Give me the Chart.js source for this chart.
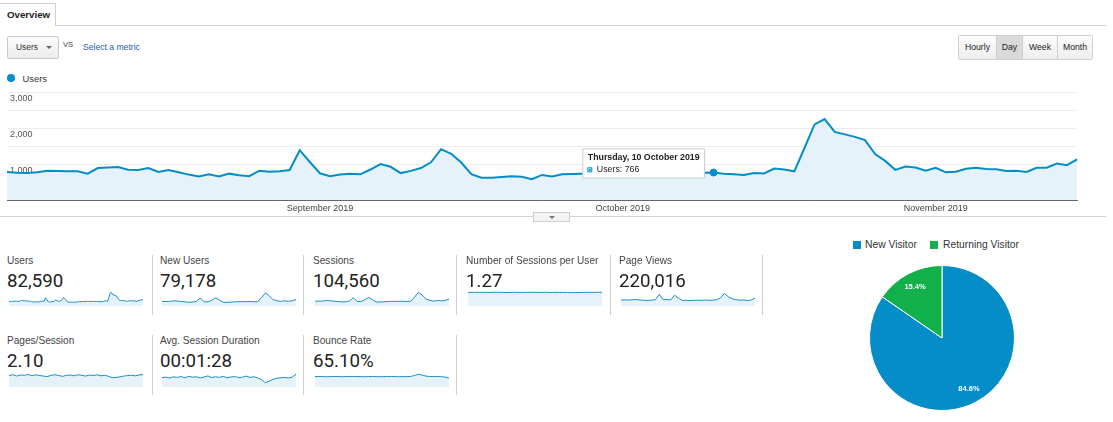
<!DOCTYPE html>
<html>
<head>
<meta charset="utf-8">
<title>Overview</title>
<script src="https://cdn.jsdelivr.net/npm/chart.js@4.4.1/dist/chart.umd.min.js"></script>
<style>
  html, body { margin:0; padding:0; background:#fff; }
  body { position:relative; width:1113px; height:422px; overflow:hidden; font-family:"Liberation Sans", Arial, sans-serif; color:#333; }
  .a { position:absolute; white-space:nowrap; }
  #tab { left:-1px; top:3px; width:57px; height:23px; box-sizing:border-box; border:1px solid #cfcfcf; border-bottom:none; background:#fff; font-weight:bold; font-size:9.7px; line-height:22px; padding-left:7px; color:#222; }
  #tabline { left:55px; top:25px; width:1051px; height:1px; background:#d3d3d3; }
  #dd { left:7px; top:36px; width:52px; height:23px; box-sizing:border-box; border:1px solid #c9c9c9; border-radius:2px; background:linear-gradient(#fbfbfb,#ececec); font-size:8.4px; line-height:21px; padding-left:8px; color:#333; }
  #dd .tri { position:absolute; left:38px; top:9px; width:0; height:0; border-left:3px solid transparent; border-right:3px solid transparent; border-top:3px solid #666; }
  #vs { left:63px; top:40px; font-size:7.6px; color:#444; }
  #sel { left:83px; top:42px; font-size:8.6px; color:#2b5ea7; }
  #btns { left:958px; top:35px; width:135px; height:25px; display:flex; border:1px solid #cfcfcf; border-radius:2px; box-sizing:border-box; overflow:hidden; }
  #btns div { box-sizing:border-box; font-size:8.7px; line-height:23px; text-align:center; color:#222; background:linear-gradient(#fcfcfc,#eeeeee); border-left:1px solid #cfcfcf; }
  #btns div:first-child { border-left:none; }
  #btns div.on { background:#dadada; }
  #lgdot { left:7px; top:74px; width:8px; height:8px; border-radius:50%; background:#058dc7; }
  #lgtxt { left:22.5px; top:73.5px; font-size:9.4px; line-height:10px; color:#333; }
  #mainWrap { left:0; top:84px; width:1113px; height:132px; }
  #handleLine { left:0; top:216px; width:1106px; height:1px; background:#d3d3d3; }
  #handle { left:533px; top:212px; width:37px; height:10px; box-sizing:border-box; border:1px solid #cfcfcf; background:#f3f3f3; }
  #handle .tri { position:absolute; left:15px; top:3px; width:0; height:0; border-left:3px solid transparent; border-right:3px solid transparent; border-top:3px solid #777; }
  .tlabel { font-size:10.1px; line-height:10px; color:#444; }
  .tvalue { font-family:Roboto, "Liberation Sans", Arial, sans-serif; font-size:18.7px; line-height:19px; color:#222; }
  .sep { width:1px; background:#d0d0d0; }
  .pls { width:8px; height:8px; }
  .plt { font-size:10.3px; line-height:10px; color:#333; }
</style>
</head>
<body>
<div id="tab" class="a">Overview</div>
<div id="tabline" class="a"></div>
<div id="dd" class="a">Users<span class="tri"></span></div>
<div id="vs" class="a">VS</div>
<div id="sel" class="a">Select a metric</div>
<div id="btns" class="a">
  <div style="width:37px">Hourly</div>
  <div class="on" style="width:26px">Day</div>
  <div style="width:35px">Week</div>
  <div style="width:35px">Month</div>
</div>
<div id="lgdot" class="a"></div>
<div id="lgtxt" class="a">Users</div>
<div id="mainWrap" class="a"><canvas id="main" width="1113" height="132"></canvas></div>
<div id="handleLine" class="a"></div>
<div id="handle" class="a"><span class="tri"></span></div>
<div id="tiles"></div>
<div class="a pls" style="left:853px;top:241px;background:#058dc7"></div>
<div class="a plt" style="left:865px;top:240px" id="pl0"></div>
<div class="a pls" style="left:930px;top:241px;background:#12b04b"></div>
<div class="a plt" style="left:943px;top:240px" id="pl1"></div>
<div class="a" style="left:869px;top:265px;width:146px;height:146px"><canvas id="pie" width="146" height="146"></canvas></div>

<script>
// ---------------- DATA ----------------
const startDate = '2019-08-01';
const dayCount = 107; // 1 Aug 2019 .. 15 Nov 2019

// Daily users
const users = [
  780, 760, 754, 772, 817, 808, 799, 799, 735, 890,
  908, 917, 844, 835, 890, 781, 835, 772, 708, 654,
  717, 654, 735, 690, 663, 817, 790, 799, 835, 1389,
  1060, 745, 663, 708, 735, 717, 850, 1000, 926, 750,
  812, 890, 1050, 1416, 1289, 1044, 720, 622, 622, 640,
  663, 650, 580, 699, 654, 717, 726, 735, 740, 760,
  730, 770, 780, 750, 790, 760, 740, 770, 780, 760,
  766, 735, 717, 695, 754, 740, 876, 853, 799, 1450,
  2107, 2258, 1900, 1830, 1760, 1671, 1280, 1090, 840, 935,
  908, 817, 899, 772, 790, 872, 899, 863, 854, 808,
  817, 781, 899, 899, 1017, 972, 1135
];

const tickDates = ['2019-09-01', '2019-10-01', '2019-11-01'];
const tickLabels = ['September 2019', 'October 2019', 'November 2019'];
const yTickValues = [1000, 2000, 3000];
const yTickLabels = ['1,000', '2,000', '3,000'];

const tooltipDate = '2019-10-10';
const weekdayNames = ['Sunday','Monday','Tuesday','Wednesday','Thursday','Friday','Saturday'];
const monthNames = ['January','February','March','April','May','June','July','August','September','October','November','December'];

// Metric tiles
const tileLabels = ['Users','New Users','Sessions','Number of Sessions per User','Page Views','Pages/Session','Avg. Session Duration','Bounce Rate'];
const tileValues = ['82,590','79,178','104,560','1.27','220,016','2.10','00:01:28','65.10%'];

// Sparkline series (approximate shapes)
const newUsersSpark = [745,760,770,860,815,760,690,630,650,775,1340,700,690,960,1370,1000,600,620,640,700,715,730,720,740,700,730,1400,2180,1720,1060,880,760,860,790,870,1090];
const sessionsSpark = [960,970,990,1090,1040,970,890,820,840,1000,1680,900,890,1230,1730,1280,790,810,830,900,920,940,930,950,910,940,1780,2760,2200,1370,1130,980,1100,1020,1120,1390];
const sessionsPerUserSpark = [1.27,1.28,1.27,1.27,1.28,1.27,1.27,1.28,1.28,1.27,1.25,1.27,1.28,1.27,1.26,1.27,1.28,1.28,1.27,1.27,1.28,1.27,1.27,1.28,1.27,1.27,1.26,1.24,1.25,1.26,1.27,1.28,1.27,1.27,1.28,1.28];
const pageViewsSpark = [1950,2050,1980,2100,2150,2000,1900,1850,1950,2100,3900,2100,2150,2050,3600,2600,1850,1900,1800,1900,1950,1850,2000,1900,1950,2100,2700,4200,3100,2400,2100,1950,2000,1800,2000,2600];
const pagesPerSessionSpark = [2.15,2.30,2.05,2.25,2.20,2.35,2.10,2.28,2.15,2.05,1.95,2.20,2.30,2.15,2.00,2.18,2.25,2.10,2.30,2.20,2.05,2.25,2.15,2.28,2.10,2.20,2.00,1.75,1.80,1.90,2.05,2.15,2.20,2.10,2.25,2.35];
const avgSessionDurationSpark = [88,92,85,95,90,98,86,100,92,96,84,94,104,88,96,90,100,86,94,98,88,92,102,90,96,86,70,40,55,72,82,86,90,84,92,120];
const bounceRateSpark = [65,66,65,64,65,66,65,64,65,66,66,65,65,64,65,66,65,64,65,65,66,65,64,65,65,66,72,80,74,68,66,65,66,64,62,56];

// Pie
const visitorTypes = ['New Visitor', 'Returning Visitor'];
const visitorShares = [84.6, 15.4];

// ---------------- LAYOUT / STYLE ----------------
const FONT = '"Liberation Sans", Arial, sans-serif';
const BLUE = '#058dc7';
const FILL = '#e5f2f9';
Chart.defaults.font.family = FONT;

const sparkSeries = [users, newUsersSpark, sessionsSpark, sessionsPerUserSpark, pageViewsSpark, pagesPerSessionSpark, avgSessionDurationSpark, bounceRateSpark];
const sparkMax = [2500, 2500, 3000, 1.4, 5000, 3, 150, 100];
const tileX = [7, 160, 313, 466, 619, 7, 160, 313];
const tileRow = [0, 0, 0, 0, 0, 1, 1, 1];
const rowLabelTop = [255.5, 335.5];
const rowValueTop = [272, 351.5];
const rowSparkTop = [291, 371];
const rowSparkH = [15, 16];
const sepX = [[152, 303, 456, 610, 762], [152, 303, 456]];
const sepTop = [255, 335];

// dates
const dates = [];
{
  const [y, m, d] = startDate.split('-').map(Number);
  for (let i = 0; i < dayCount; i++) {
    const dt = new Date(Date.UTC(y, m - 1, d + i));
    dates.push(dt.toISOString().slice(0, 10));
  }
}
function longDate(iso) {
  const [y, m, d] = iso.split('-').map(Number);
  const dt = new Date(Date.UTC(y, m - 1, d));
  return weekdayNames[dt.getUTCDay()] + ', ' + d + ' ' + monthNames[m - 1] + ' ' + y;
}

// ---------------- MAIN CHART ----------------
Chart.Tooltip.positioners.gaLeft = function (items) {
  if (!items.length) return false;
  const el = items[0].element;
  return { x: el.x - 9, y: el.y - 9, xAlign: 'right', yAlign: 'center' };
};

const mainChart = new Chart(document.getElementById('main'), {
  type: 'line',
  data: {
    labels: dates,
    datasets: [{
      label: 'Users',
      data: users,
      borderColor: BLUE,
      borderWidth: 2,
      backgroundColor: FILL,
      fill: 'origin',
      pointRadius: 0,
      pointHoverRadius: 3.5,
      pointHoverBackgroundColor: BLUE,
      pointHoverBorderColor: BLUE,
      pointHoverBorderWidth: 1,
      tension: 0
    }]
  },
  options: {
    responsive: false,
    animation: false,
    events: [],
    layout: { padding: { left: 7, right: 36, top: 6, bottom: 0 } },
    interaction: { mode: 'index', intersect: false },
    plugins: {
      legend: { display: false },
      tooltip: {
        position: 'gaLeft',
        xAlign: 'right',
        yAlign: 'center',
        caretSize: 0,
        caretPadding: 0,
        cornerRadius: 0,
        backgroundColor: '#ffffff',
        borderColor: '#cccccc',
        borderWidth: 1,
        titleColor: '#222',
        bodyColor: '#222',
        titleFont: { size: 8.8, weight: 'bold', family: FONT },
        bodyFont: { size: 8.8, family: FONT },
        padding: { top: 3, bottom: 3, left: 5, right: 5 },
        titleMarginBottom: 2,
        displayColors: true,
        boxWidth: 4,
        boxHeight: 4,
        boxPadding: 3,
        callbacks: {
          title: items => longDate(dates[items[0].dataIndex]),
          label: ctx => 'Users: ' + ctx.formattedValue,
          labelColor: () => ({ borderColor: BLUE, backgroundColor: BLUE, borderWidth: 0 })
        }
      }
    },
    scales: {
      x: {
        z: 1,
        grid: { display: false, drawTicks: false },
        border: { display: true, color: '#666', width: 1 },
        ticks: {
          autoSkip: false, maxRotation: 0, minRotation: 0, padding: 3,
          color: '#444', font: { size: 9, family: FONT },
          callback: (v, i) => { const k = tickDates.indexOf(dates[i]); return k >= 0 ? tickLabels[k] : ''; }
        },
        afterFit: s => { s.height = 16; }
      },
      y: {
        min: 0, max: 3000,
        grid: { color: c => c.tick.value === 0 ? 'rgba(0,0,0,0)' : '#ececec', drawTicks: false },
        border: { display: false },
        ticks: { display: false, stepSize: 500 },
        afterFit: s => { s.width = 0; }
      },
      yl: {
        position: 'left',
        min: 0, max: 3000,
        z: 1,
        grid: { display: false, drawTicks: false },
        border: { display: false },
        ticks: {
          stepSize: 1000, mirror: true, padding: 3, labelOffset: 6,
          color: '#555', font: { size: 9, family: FONT },
          showLabelBackdrop: true,
          backdropColor: c => yTickValues.includes(c.tick.value) ? '#ffffff' : 'rgba(0,0,0,0)',
          backdropPadding: { x: 1, y: 0 },
          callback: v => { const k = yTickValues.indexOf(v); return k >= 0 ? yTickLabels[k] : ''; }
        },
        afterFit: s => { s.width = 0; }
      }
    }
  }
});
{
  const idx = dates.indexOf(tooltipDate);
  mainChart.setActiveElements([{ datasetIndex: 0, index: idx }]);
  mainChart.tooltip.setActiveElements([{ datasetIndex: 0, index: idx }], { x: 0, y: 0 });
  mainChart.update();
}

// ---------------- TILES ----------------
const tilesEl = document.getElementById('tiles');
tileLabels.forEach((lab, i) => {
  const r = tileRow[i];
  const l = document.createElement('div');
  l.className = 'a tlabel'; l.style.left = tileX[i] + 'px'; l.style.top = rowLabelTop[r] + 'px'; l.textContent = lab;
  tilesEl.appendChild(l);
  const v = document.createElement('div');
  v.className = 'a tvalue'; v.style.left = tileX[i] + 'px'; v.style.top = rowValueTop[r] + 'px'; v.textContent = tileValues[i];
  tilesEl.appendChild(v);
  const w = document.createElement('div');
  w.className = 'a'; w.style.left = (tileX[i] + 2) + 'px'; w.style.top = rowSparkTop[r] + 'px';
  const c = document.createElement('canvas');
  c.width = 134; c.height = rowSparkH[r];
  w.appendChild(c); tilesEl.appendChild(w);
  const series = sparkSeries[i];
  new Chart(c, {
    type: 'line',
    data: { labels: series.map((_, k) => k), datasets: [{ data: series, borderColor: '#1a8fc6', borderWidth: 1, backgroundColor: FILL, fill: 'origin', pointRadius: 0, tension: 0 }] },
    options: {
      responsive: false, animation: false, events: [],
      layout: { padding: 0 },
      plugins: { legend: { display: false }, tooltip: { enabled: false } },
      scales: { x: { display: false }, y: { display: false, min: 0, max: sparkMax[i] } }
    }
  });
});
sepX.forEach((xs, r) => xs.forEach(x => {
  const s = document.createElement('div');
  s.className = 'a sep'; s.style.left = x + 'px'; s.style.top = sepTop[r] + 'px'; s.style.height = '60px';
  tilesEl.appendChild(s);
}));

// ---------------- PIE ----------------
document.getElementById('pl0').textContent = visitorTypes[0];
document.getElementById('pl1').textContent = visitorTypes[1];
const pieLabelPlugin = {
  id: 'pieLabels',
  afterDatasetsDraw(chart) {
    const { ctx } = chart;
    const meta = chart.getDatasetMeta(0);
    ctx.save();
    ctx.fillStyle = '#ffffff';
    ctx.font = 'bold 7.5px ' + FONT;
    ctx.textAlign = 'center';
    ctx.textBaseline = 'middle';
    meta.data.forEach((arc, i) => {
      const p = arc.getProps(['x', 'y', 'startAngle', 'endAngle', 'outerRadius'], true);
      const mid = (p.startAngle + p.endAngle) / 2;
      const r = p.outerRadius * 0.8;
      ctx.fillText(visitorShares[i].toFixed(1) + '%', p.x + Math.cos(mid) * r, p.y + Math.sin(mid) * r);
    });
    ctx.restore();
  }
};
new Chart(document.getElementById('pie'), {
  type: 'pie',
  data: { labels: visitorTypes, datasets: [{ data: visitorShares, backgroundColor: ['#058dc7', '#12b04b'], borderColor: '#ffffff', borderWidth: 1 }] },
  options: {
    responsive: false, animation: false, events: [],
    layout: { padding: 0 },
    plugins: { legend: { display: false }, tooltip: { enabled: false } }
  },
  plugins: [pieLabelPlugin]
});
</script>
</body>
</html>
